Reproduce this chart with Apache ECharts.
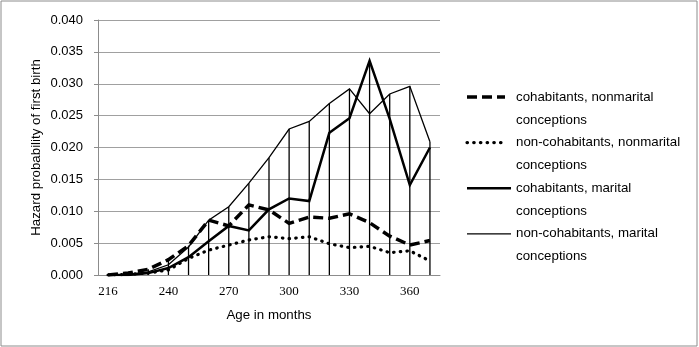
<!DOCTYPE html>
<html>
<head>
<meta charset="utf-8">
<script src="https://cdn.jsdelivr.net/npm/echarts@6/dist/echarts.min.js"></script>
<style>
html,body{margin:0;padding:0;background:#fff;}
#chart{width:699px;height:347px;}
</style>
</head>
<body>
<div id="chart"></div>
<script>
// ---- data ----
const ages = ['216','220','230','240','250','260','270','280','290','300','310','320','330','340','350','360','370'];
const seriesNames = [
  'cohabitants, nonmarital\nconceptions',
  'non-cohabitants, nonmarital\nconceptions',
  'cohabitants, marital\nconceptions',
  'non-cohabitants, marital\nconceptions'
];
const cohabNonmarital    = [0.0000,0.0003,0.0009,0.0024,0.0046,0.0086,0.0077,0.0110,0.0102,0.0081,0.0091,0.0089,0.0096,0.0082,0.0061,0.0047,0.0054];
const nonCohabNonmarital = [0.0000,0.0001,0.0003,0.0008,0.0026,0.0039,0.0047,0.0055,0.0060,0.0057,0.0060,0.0049,0.0043,0.0045,0.0035,0.0038,0.0022];
const cohabMarital       = [0.0000,0.0000,0.0003,0.0011,0.0028,0.0053,0.0077,0.0070,0.0103,0.0120,0.0116,0.0223,0.0246,0.0336,0.0245,0.0141,0.0200];
const nonCohabMarital    = [0.0000,0.0001,0.0005,0.0016,0.0044,0.0086,0.0107,0.0144,0.0184,0.0229,0.0241,0.0269,0.0292,0.0253,0.0284,0.0296,0.0209];
const yTicks = {min:0, max:0.04, step:0.005};

// drop lines: from the highest series value at each age down to the axis
const dropLines = ages.map((_, i) => Math.max(cohabNonmarital[i], nonCohabNonmarital[i], cohabMarital[i], nonCohabMarital[i]));

const styles = [
  {color:'#000', width:3.5, type:[10,5], cap:'butt'},
  {color:'#000', width:3.2, type:[0.5,6.2], cap:'round'},
  {color:'#000', width:2.5, type:'solid', cap:'butt'},
  {color:'#000', width:1.3, type:'solid', cap:'butt'}
];
const values = [cohabNonmarital, nonCohabNonmarital, cohabMarital, nonCohabMarital];

const chart = echarts.init(document.getElementById('chart'), null, {renderer:'canvas'});

const lineSeries = values.map((v, k) => ({
  name: seriesNames[k],
  type: 'line',
  data: v,
  showSymbol: false,
  symbol: 'none',
  z: 3,
  lineStyle: {color: styles[k].color, width: styles[k].width, type: styles[k].type, cap: styles[k].cap, join:'miter'},
  emphasis: {disabled: true}
}));

// custom legend
const legendX = 467, legendY = 97, itemStep = 45.6, lineStep = 23;
const legendGraphics = [];
seriesNames.forEach((name, k) => {
  const y = legendY + k * itemStep;
  legendGraphics.push({
    type: 'line',
    shape: {x1: legendX, y1: y, x2: legendX + (k < 2 ? 38 : 44), y2: y},
    style: {stroke: styles[k].color, lineWidth: styles[k].width, lineDash: styles[k].type === 'solid' ? null : styles[k].type, lineCap: styles[k].cap}
  });
  legendGraphics.push({
    type: 'text',
    x: 516, y: y - lineStep / 2,
    style: {text: name, font: '13.3px "Liberation Sans", Arial, sans-serif', fill: '#000', lineHeight: lineStep, verticalAlign: 'top'}
  });
});

chart.setOption({
  animation: false,
  backgroundColor: '#fff',
  grid: {left: 98, right: 259, top: 20, bottom: 72, containLabel: false},
  xAxis: {
    type: 'category',
    data: ages,
    boundaryGap: true,
    name: 'Age in months',
    nameLocation: 'middle',
    nameGap: 34,
    nameTextStyle: {fontFamily: '"Liberation Sans", Arial, sans-serif', fontSize: 13.3, color: '#000'},
    axisLine: {lineStyle: {color: '#8c8c8c', width: 1}},
    axisTick: {show: false},
    axisLabel: {interval: 2, margin: 10, fontFamily: '"Liberation Serif", "Times New Roman", serif', fontSize: 13, color: '#000'},
    splitLine: {show: false}
  },
  yAxis: {
    type: 'value',
    min: yTicks.min, max: yTicks.max, interval: yTicks.step,
    name: 'Hazard probability of first birth',
    nameLocation: 'middle',
    nameGap: 55,
    nameRotate: 90,
    nameTextStyle: {fontFamily: '"Liberation Sans", Arial, sans-serif', fontSize: 13.3, color: '#000'},
    axisLine: {show: true, lineStyle: {color: '#8c8c8c', width: 1}},
    axisTick: {show: true, length: 4, lineStyle: {color: '#8c8c8c'}},
    axisLabel: {margin: 15, formatter: v => v.toFixed(3), fontFamily: '"Liberation Sans", Arial, sans-serif', fontSize: 13, color: '#000'},
    splitLine: {show: true, lineStyle: {color: '#a0a0a0', width: 1}}
  },
  series: [
    {
      name: 'drop',
      type: 'bar',
      data: dropLines,
      barWidth: 1.3,
      z: 2,
      itemStyle: {color: '#000'},
      emphasis: {disabled: true}
    }
  ].concat(lineSeries),
  graphic: [
    {type: 'rect', shape: {x: 1, y: 1, width: 696, height: 345}, style: {fill: null, stroke: '#8c8c8c', lineWidth: 1}, z: 0}
  ].concat(legendGraphics)
});
</script>
</body>
</html>
